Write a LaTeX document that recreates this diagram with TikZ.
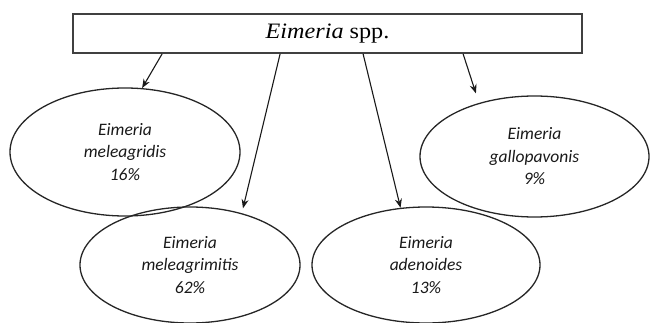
\documentclass[tikz,border=0pt]{standalone}
\usepackage{fontspec}
\setmainfont{Liberation Serif}
\newfontfamily\carlitofont{Carlito}
\usetikzlibrary{shapes.geometric,arrows.meta,calc}
\begin{document}
\begin{tikzpicture}[x=1pt,y=-1pt,
  titlebox/.style={draw=black!75,line width=1.8pt,minimum width=509pt,minimum height=39pt,inner sep=0pt},
  species/.style={ellipse,draw=black!85,line width=1.3pt,inner sep=0pt,align=center,
     font=\carlitofont\itshape\fontsize{17.5}{22.5}\selectfont,text=black!90},
  arr/.style={draw=black!90,line width=1.1pt,-{Stealth[length=9pt,width=7pt]}}]
\useasboundingbox (0,0) rectangle (650,323);
\node[titlebox] (box) at (327.5,33.5) {\fontsize{22}{24}\selectfont\scalebox{1.1}[1]{\textit{Eimeria} spp.}};
\node[species,minimum width=230pt,minimum height=128pt] (e1) at (125,152) {Eimeria\\meleagridis\\16\%};
\node[species,minimum width=229pt,minimum height=121pt] (e4) at (534.5,156.5) {Eimeria\\gallopavonis\\9\%};
\node[species,minimum width=220pt,minimum height=116pt] (e2) at (190,265) {Eimeria\\meleagrimitis\\62\%};
\node[species,minimum width=228pt,minimum height=116pt] (e3) at (426,265) {Eimeria\\adenoides\\13\%};
\coordinate (s1) at ($(box.south west)+(90,0)$);
\coordinate (s2) at ($(box.south west)+(208,0)$);
\coordinate (s3) at ($(box.south west)+(291,0)$);
\coordinate (s4) at ($(box.south west)+(391,0)$);
\draw[arr] (s1) -- (e1.75);
\draw[arr,shorten >=5pt] (s2) -- (e2.45);
\draw[arr] (s3) -- (e3.114);
\draw[arr,shorten >=10pt] (s4) -- (e4.136);
\end{tikzpicture}
\end{document}
